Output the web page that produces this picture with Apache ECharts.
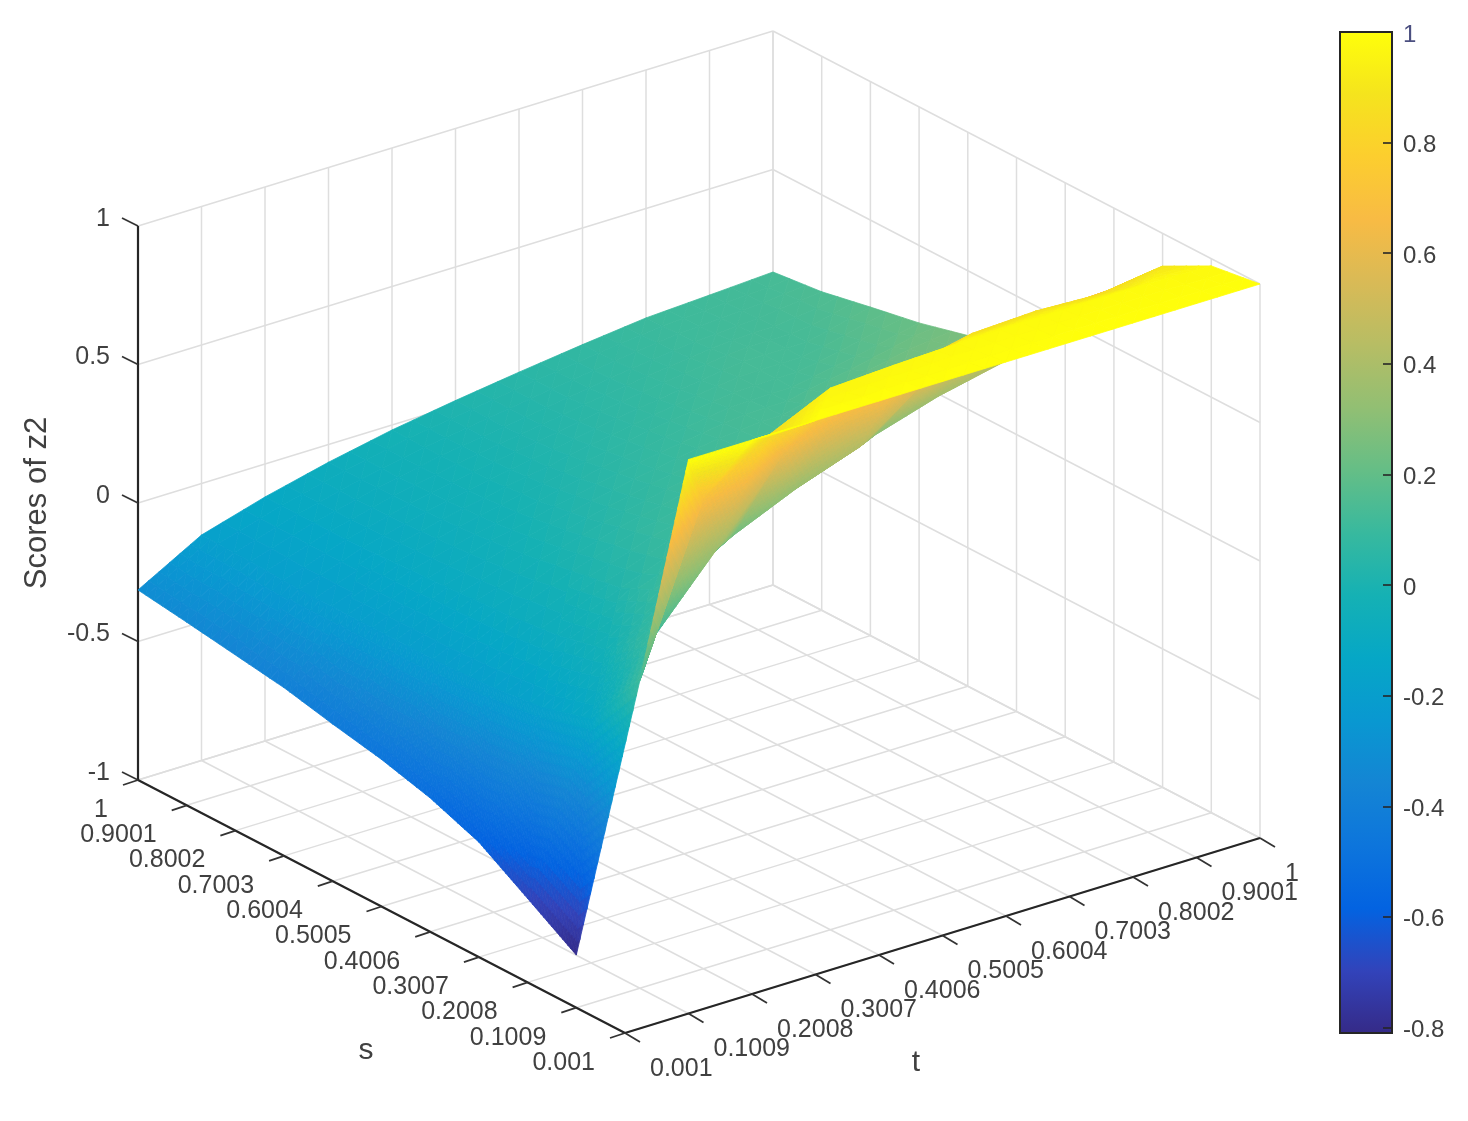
<!DOCTYPE html>
<html><head><meta charset="utf-8">
<style>html,body{margin:0;padding:0;background:#fff}#c{width:1468px;height:1121px}</style>
<script src="https://cdn.jsdelivr.net/npm/echarts@6/dist/echarts.min.js"></script>
</head><body><div id="c"></div>
<script>
// ---- data ----
const sValues = [0.001,0.1009,0.2008,0.3007,0.4006,0.5005,0.6004,0.7003,0.8002,0.9001,1];
const tValues = [0.001,0.1009,0.2008,0.3007,0.4006,0.5005,0.6004,0.7003,0.8002,0.9001,1];
const sTickLabels = ['0.001','0.1009','0.2008','0.3007','0.4006','0.5005','0.6004','0.7003','0.8002','0.9001','1'];
const tTickLabels = ['0.001','0.1009','0.2008','0.3007','0.4006','0.5005','0.6004','0.7003','0.8002','0.9001','1'];
const zTicks = [-1,-0.5,0,0.5,1];
const zTickLabels = ['-1','-0.5','0','0.5','1'];
const colorbarTicks = [-0.8,-0.6,-0.4,-0.2,0,0.2,0.4,0.6,0.8,1];
// one row per s value, columns follow t values
const zS00 = [null,1,1,1,1,1,1,1,1,1,1];
const zS01 = [-0.81,0.11,0.7,0.85,0.955,0.967,0.975,0.98,0.98,0.98,0.974];
const zS02 = [-0.697,-0.12,0.11,0.36,0.62,0.76,0.8,0.85,0.86,0.85,0.882];
const zS03 = [-0.585,-0.17,-0.03,0.11,0.24,0.34,0.42,0.58,0.68,0.7,0.71];
const zS04 = [-0.517,-0.19,-0.07,0.03,0.115,0.15,0.22,0.3,0.37,0.42,0.47];
const zS05 = [-0.469,-0.2,-0.09,0,0.07,0.12,0.14,0.2,0.26,0.3,0.34];
const zS06 = [-0.433,-0.2,-0.1,-0.03,0.03,0.08,0.12,0.14,0.19,0.24,0.266];
const zS07 = [-0.393,-0.2,-0.11,-0.05,0,0.05,0.09,0.125,0.13,0.17,0.22];
const zS08 = [-0.366,-0.2,-0.12,-0.06,-0.015,0.025,0.065,0.1,0.13,0.13,0.186];
const zS09 = [-0.339,-0.19,-0.12,-0.065,-0.02,0.015,0.05,0.083,0.11,0.125,0.15];
const zS10 = [-0.314,-0.186,-0.119,-0.064,-0.018,0.018,0.05,0.079,0.105,0.117,0.13];
const zRows = [zS00,zS01,zS02,zS03,zS04,zS05,zS06,zS07,zS08,zS09,zS10];
const parulaStops = ['#352a87','#3243ba','#0363e1','#0d75dc','#1485d4','#0998d1','#06a7c6','#15b1b4','#38b99e','#65be86','#92bf73','#b7bd64','#d9ba56','#f8bb44','#fcce2e','#f5e41d','#ffff0a'];
const colorMin = -0.81, colorMax = 1;

// ---- view ----
const frontCorner = [625,1033], leftCorner = [138,780], rightCorner = [1260,838], zSpan = 554;
const FONT = '"Liberation Sans", Arial, sans-serif', TEXT = '#404040', AXIS = '#262626', GRID = '#dedede';
const parulaRgb = parulaStops.map(h => [1,3,5].map(k => parseInt(h.substr(k,2),16)));
function zColor(z){
  const u = Math.max(0,Math.min(1,(z-colorMin)/(colorMax-colorMin)))*(parulaRgb.length-1);
  const k = Math.min(parulaRgb.length-2,Math.floor(u)), f = u-k, a = parulaRgb[k], b = parulaRgb[k+1];
  return 'rgb('+[0,1,2].map(c => Math.round(a[c]+(b[c]-a[c])*f)).join(',')+')';
}
// orthographic projection of (s,t,z) to the plane of the hidden pixel axes
function project(s,t,z){
  const a = (s-0.001)/0.999, b = (t-0.001)/0.999;
  return [frontCorner[0]+a*(leftCorner[0]-frontCorner[0])+b*(rightCorner[0]-frontCorner[0]),
          frontCorner[1]+a*(leftCorner[1]-frontCorner[1])+b*(rightCorner[1]-frontCorner[1])-(z+1)/2*zSpan];
}
function seg(api,p,q,color,w){
  const a = api.coord(p), b = api.coord(q);
  return {type:'line',silent:true,shape:{x1:a[0],y1:a[1],x2:b[0],y2:b[1]},style:{stroke:color,lineWidth:w,fill:null}};
}
function txt(api,p,str,align,size){
  const a = api.coord(p);
  return {type:'text',silent:true,x:a[0],y:a[1],style:{text:str,align:align,verticalAlign:'middle',fontSize:size,fontFamily:FONT,fill:TEXT}};
}
function renderFrame(params,api){
  const c = [];
  const sEnd = sValues[sValues.length-1], tEnd = tValues[tValues.length-1], s0 = sValues[0], t0 = tValues[0];
  sValues.forEach(s => {
    c.push(seg(api,project(s,t0,-1),project(s,tEnd,-1),GRID,1.5));
    c.push(seg(api,project(s,tEnd,-1),project(s,tEnd,1),GRID,1.5));
  });
  tValues.forEach(t => {
    c.push(seg(api,project(s0,t,-1),project(sEnd,t,-1),GRID,1.5));
    c.push(seg(api,project(sEnd,t,-1),project(sEnd,t,1),GRID,1.5));
  });
  zTicks.forEach(z => {
    c.push(seg(api,project(sEnd,t0,z),project(sEnd,tEnd,z),GRID,1.5));
    c.push(seg(api,project(sEnd,tEnd,z),project(s0,tEnd,z),GRID,1.5));
  });
  c.push(seg(api,project(s0,t0,-1),project(sEnd,t0,-1),AXIS,2.2));
  c.push(seg(api,project(s0,t0,-1),project(s0,tEnd,-1),AXIS,2.2));
  c.push(seg(api,project(sEnd,t0,-1),project(sEnd,t0,1),AXIS,2.2));
  sValues.forEach((s,i) => {
    const p = project(s,t0,-1);
    c.push(seg(api,p,[p[0]-15,p[1]+5],'#333',1.8));
    c.push(txt(api,[p[0]-30,p[1]+30],sTickLabels[i],'right',25));
  });
  tValues.forEach((t,i) => {
    const p = project(s0,t,-1);
    c.push(seg(api,p,[p[0]+15,p[1]+9],'#333',1.8));
    c.push(txt(api,[p[0]+25,p[1]+36],tTickLabels[i],'left',25));
  });
  zTicks.forEach((z,i) => {
    const p = project(sEnd,t0,z);
    c.push(seg(api,p,[p[0]-16,p[1]-8],'#333',1.8));
    c.push(txt(api,[110,p[1]-7],zTickLabels[i],'right',25));
  });
  c.push(txt(api,[366,1051],'s','center',30));
  c.push(txt(api,[916,1063],'t','center',30));
  const yl = txt(api,[37,503],'Scores of z2','center',31);
  yl.rotation = Math.PI/2;
  c.push(yl);
  return {type:'group',children:c};
}
function triPieces(api,A,B,C,out){
  const range = Math.max(A[2],B[2],C[2])-Math.min(A[2],B[2],C[2]);
  const SUB = Math.max(3,Math.min(18,Math.ceil(range/0.03)));
  const at = (u,v) => {
    const w = 1-u-v;
    return [A[0]*w+B[0]*u+C[0]*v, A[1]*w+B[1]*u+C[1]*v, A[2]*w+B[2]*u+C[2]*v];
  };
  const put = (p,q,r) => {
    const col = zColor((p[2]+q[2]+r[2])/3);
    const pts = [p,q,r].map(x => api.coord(project(x[0],x[1],x[2])));
    out.push({type:'polygon',silent:true,shape:{points:pts},style:{fill:col,stroke:col,lineWidth:0.8}});
  };
  for(let a=0;a<SUB;a++) for(let b=0;b<SUB-a;b++){
    const u=a/SUB,v=b/SUB,d=1/SUB;
    put(at(u,v),at(u+d,v),at(u,v+d));
    if(a+b<SUB-1) put(at(u+d,v),at(u+d,v+d),at(u,v+d));
  }
}
function renderCell(params,api){
  const i = api.value(0), j = api.value(1);
  const V = (a,b) => [sValues[a],tValues[b],zRows[a][b]];
  const out = [];
  triPieces(api,V(i+1,j+1),V(i+1,j),V(i,j),out);
  triPieces(api,V(i+1,j+1),V(i,j+1),V(i,j),out);
  return {type:'group',children:out};
}
// far cells first; a cell with a missing corner is not drawn
const cells = [];
for(let i=sValues.length-2;i>=0;i--) for(let j=tValues.length-2;j>=0;j--){
  if(zRows[i][j]!==null&&zRows[i+1][j]!==null&&zRows[i][j+1]!==null&&zRows[i+1][j+1]!==null) cells.push([i,j]);
}
const chart = echarts.init(document.getElementById('c'),null,{renderer:'canvas'});
chart.setOption({
  animation:false,
  backgroundColor:'#fff',
  grid:[
    {left:0,top:0,width:1468,height:1121},
    {left:1340,top:32,width:52,height:1001}
  ],
  xAxis:[
    {gridIndex:0,type:'value',min:0,max:1468,show:false},
    {gridIndex:1,type:'value',min:0,max:1,show:false}
  ],
  yAxis:[
    {gridIndex:0,type:'value',min:0,max:1121,inverse:true,show:false},
    {gridIndex:1,type:'value',min:colorMin,max:colorMax,position:'right',z:6,
     axisLine:{show:false,onZero:false},splitLine:{show:false},
     axisTick:{show:true,inside:true,length:9,customValues:colorbarTicks,lineStyle:{color:'#262626',width:1.6}},
     axisLabel:{show:true,margin:11,customValues:colorbarTicks,
       formatter:v=>(v===1?'{top|':'{lab|')+v+'}',
       rich:{
         lab:{fontSize:24,fontFamily:FONT,color:TEXT,padding:[6,0,0,0]},
         top:{fontSize:24,fontFamily:FONT,color:'#4b4f80',padding:[6,0,0,0]}
       }}}
  ],
  series:[
    {type:'custom',name:'frame',xAxisIndex:0,yAxisIndex:0,z:1,silent:true,data:[[0,0]],renderItem:renderFrame},
    {type:'custom',name:'surface',xAxisIndex:0,yAxisIndex:0,z:2,silent:true,data:cells,renderItem:renderCell,progressive:0},
    {type:'custom',name:'colorbar',xAxisIndex:1,yAxisIndex:1,z:3,silent:true,data:[[0,colorMin,1,colorMax]],
     renderItem:(params,api)=>{
       const a = api.coord([api.value(0),api.value(3)]), b = api.coord([api.value(2),api.value(1)]);
       return {type:'rect',silent:true,shape:{x:a[0],y:a[1],width:b[0]-a[0],height:b[1]-a[1]},
         style:{stroke:'#262626',lineWidth:2,
           fill:new echarts.graphic.LinearGradient(0,0,0,1,parulaStops.map((c,k)=>({offset:1-k/(parulaStops.length-1),color:c})).reverse())}};
     }}
  ]
});
</script></body></html>
